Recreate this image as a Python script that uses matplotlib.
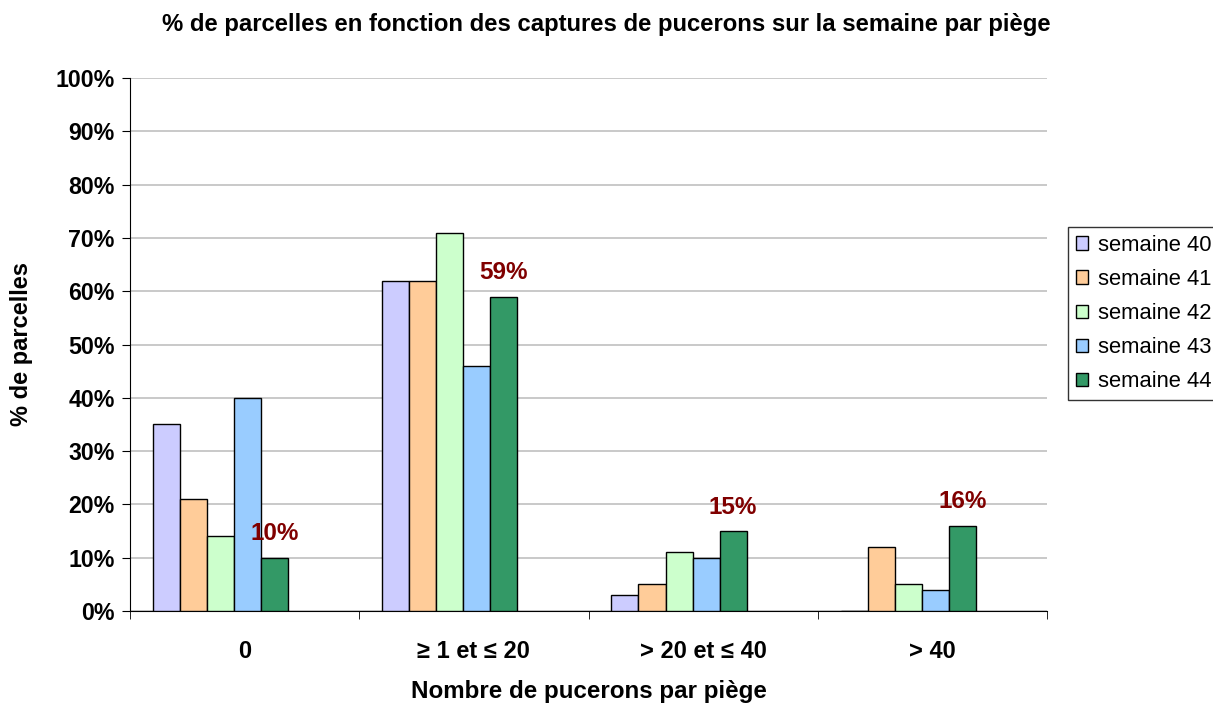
import matplotlib
matplotlib.use("Agg")
import matplotlib.pyplot as plt
import numpy as np

plt.rcParams['font.family'] = ['Liberation Sans', 'DejaVu Sans']

categories = ["0", "\u2265 1 et \u2264 20", "> 20 et \u2264 40", "> 40"]
series_names = ["semaine 40", "semaine 41", "semaine 42", "semaine 43", "semaine 44"]
s40 = [35, 62, 3, 0]
s41 = [21, 62, 5, 12]
s42 = [14, 71, 11, 5]
s43 = [40, 46, 10, 4]
s44 = [10, 59, 15, 16]
label_texts = ["10%", "59%", "15%", "16%"]
colors = ["#CCCCFF", "#FFCC99", "#CCFFCC", "#99CCFF", "#339966"]

fig = plt.figure(figsize=(12.13, 7.04), dpi=100)
ax = fig.add_axes([130/1213, 1-611/704, (1047-130)/1213, (611-78)/704])

x = np.arange(len(categories))
width = 0.118
start = -0.5 + 0.1
all_series = [s40, s41, s42, s43, s44]
handles = []
for k, (vals, c, name) in enumerate(zip(all_series, colors, series_names)):
    pos = x + start + width * (k + 0.5)
    h = ax.bar(pos, vals, width=width, color=c, edgecolor="black", linewidth=1.0,
               label=name, zorder=3)
    handles.append(h)
    if k == 4:
        for p, v, t in zip(pos, vals, label_texts):
            ax.text(p, v + 2.3, t, ha="center", va="bottom", color="#800000",
                    fontsize=17.5, fontweight="bold", zorder=4)

ax.set_xlim(-0.5, len(categories) - 0.5)
ax.set_ylim(0, 100)
ax.set_yticks(np.arange(0, 101, 10))
ax.set_yticklabels([f"{v}%" for v in range(0, 101, 10)], fontsize=16.7, fontweight="bold")
ax.set_xticks(x)
ax.set_xticklabels(categories, fontsize=17, fontweight="bold")
ax.set_xticks(np.arange(-0.5, len(categories), 1), minor=True)
ax.tick_params(axis="x", which="major", length=0, pad=21)
ax.tick_params(axis="x", which="minor", length=6, direction="out", color="black")
ax.tick_params(axis="y", length=6, direction="out", color="black", pad=5)
ax.yaxis.grid(True, color="#C0C0C0", linewidth=1.2, zorder=0)
ax.set_axisbelow(True)
for side in ["top", "right"]:
    ax.spines[side].set_visible(False)
ax.spines["left"].set_color("black")
ax.spines["bottom"].set_color("black")

ax.set_xlabel("Nombre de pucerons par pi\u00e8ge", fontsize=17.4, fontweight="bold", labelpad=12)
ax.set_ylabel("% de parcelles", fontsize=17, fontweight="bold", labelpad=16)
fig.suptitle("% de parcelles en fonction des captures de pucerons sur la semaine par pi\u00e8ge",
             fontsize=17.2, fontweight="bold", x=0.5, y=0.982)

leg = fig.legend(handles=handles, labels=series_names, loc="upper left",
                 bbox_to_anchor=(1068/1213, 1-227/704), fontsize=15.8,
                 frameon=True, fancybox=False, edgecolor="black",
                 handlelength=0.55, handleheight=0.55, handletextpad=0.45,
                 labelspacing=0.6, borderpad=0.35, borderaxespad=0)
leg.get_frame().set_linewidth(1.0)

fig.savefig("out.png", dpi=100)
